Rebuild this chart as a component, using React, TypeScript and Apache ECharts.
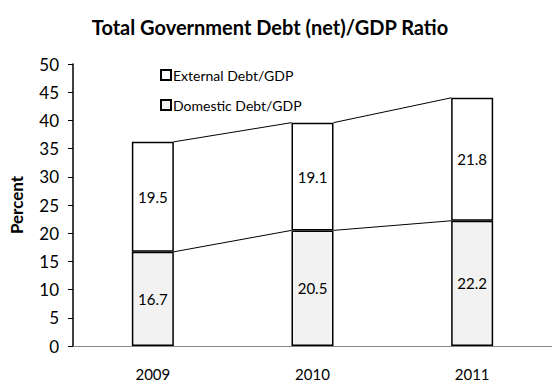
import React, { useEffect, useRef } from "react";
import * as echarts from "echarts";

const years = ["2009", "2010", "2011"];
const domestic = [16.7, 20.5, 22.2];
const external = [19.5, 19.1, 21.8];
const yTicks = { min: 0, max: 50, interval: 5 };

const FONT = "Lato";
const BAR_W = 42;

export default function App() {
  const ref = useRef<HTMLDivElement>(null);
  useEffect(() => {
    if (!ref.current) return;
    const chart = echarts.init(ref.current, null, { renderer: "svg" });
    const totals = domestic.map((d, i) => +(d + external[i]).toFixed(1));
    const lineData: number[][] = [];
    for (let i = 0; i < years.length - 1; i++) {
      lineData.push([i, domestic[i], domestic[i + 1]]);
      lineData.push([i, totals[i], totals[i + 1]]);
    }
    chart.setOption({
      animation: false,
      textStyle: { fontFamily: FONT },
      title: {
        text: "Total Government Debt (net)/GDP Ratio",
        left: 265,
        textAlign: "center",
        top: 12,
        textStyle: { fontFamily: FONT, fontSize: 20, fontWeight: "bold", color: "#000" },
      },
      legend: {
        data: ["External Debt/GDP", "Domestic Debt/GDP"],
        orient: "vertical",
        left: 155,
        top: 63,
        itemWidth: 10,
        itemHeight: 10,
        itemGap: 16,
        icon: "rect",
        textStyle: { fontFamily: FONT, fontSize: 14, color: "#000", padding: [0, 0, 0, -3] },
      },
      grid: { left: 70, right: -4, top: 64, bottom: 39 },
      xAxis: {
        type: "category",
        data: years,
        axisLine: { lineStyle: { color: "#888", width: 1 } },
        axisTick: { show: false },
        axisLabel: { margin: 20, fontSize: 15, color: "#000", fontFamily: FONT },
      },
      yAxis: {
        type: "value",
        min: yTicks.min,
        max: yTicks.max,
        interval: yTicks.interval,
        name: "Percent",
        nameLocation: "middle",
        nameGap: 48,
        nameTextStyle: { fontFamily: FONT, fontSize: 17, fontWeight: "bold", color: "#000" },
        axisLine: { show: true, lineStyle: { color: "#000", width: 1.5 } },
        axisTick: { show: true, length: 5, lineStyle: { color: "#000" } },
        splitLine: { show: false },
        axisLabel: { fontSize: 17, color: "#000", margin: 14, fontFamily: FONT },
      },
      series: [
        {
          name: "Domestic Debt/GDP",
          type: "bar",
          stack: "debt",
          barWidth: BAR_W,
          data: domestic,
          itemStyle: { color: "#f2f2f2", borderColor: "#000", borderWidth: 1.5 },
          label: { show: true, position: "inside", color: "#000", fontSize: 15, fontFamily: FONT },
        },
        {
          name: "External Debt/GDP",
          type: "bar",
          stack: "debt",
          barWidth: BAR_W,
          data: external,
          itemStyle: { color: "#ffffff", borderColor: "#000", borderWidth: 1.5 },
          label: { show: true, position: "inside", color: "#000", fontSize: 15, fontFamily: FONT },
        },
        {
          type: "custom",
          name: "series lines",
          silent: true,
          data: lineData,
          renderItem: (params: any, api: any) => {
            const i = api.value(0);
            const a = api.coord([i, api.value(1)]);
            const b = api.coord([i + 1, api.value(2)]);
            return {
              type: "line",
              shape: { x1: a[0] + BAR_W / 2, y1: a[1], x2: b[0] - BAR_W / 2, y2: b[1] },
              style: { stroke: "#000", lineWidth: 1 },
            };
          },
        },
      ],
    });
    return () => chart.dispose();
  }, []);
  return <div ref={ref} style={{ width: 552, height: 385, position: "absolute", left: 0, top: 0 }} />;
}
